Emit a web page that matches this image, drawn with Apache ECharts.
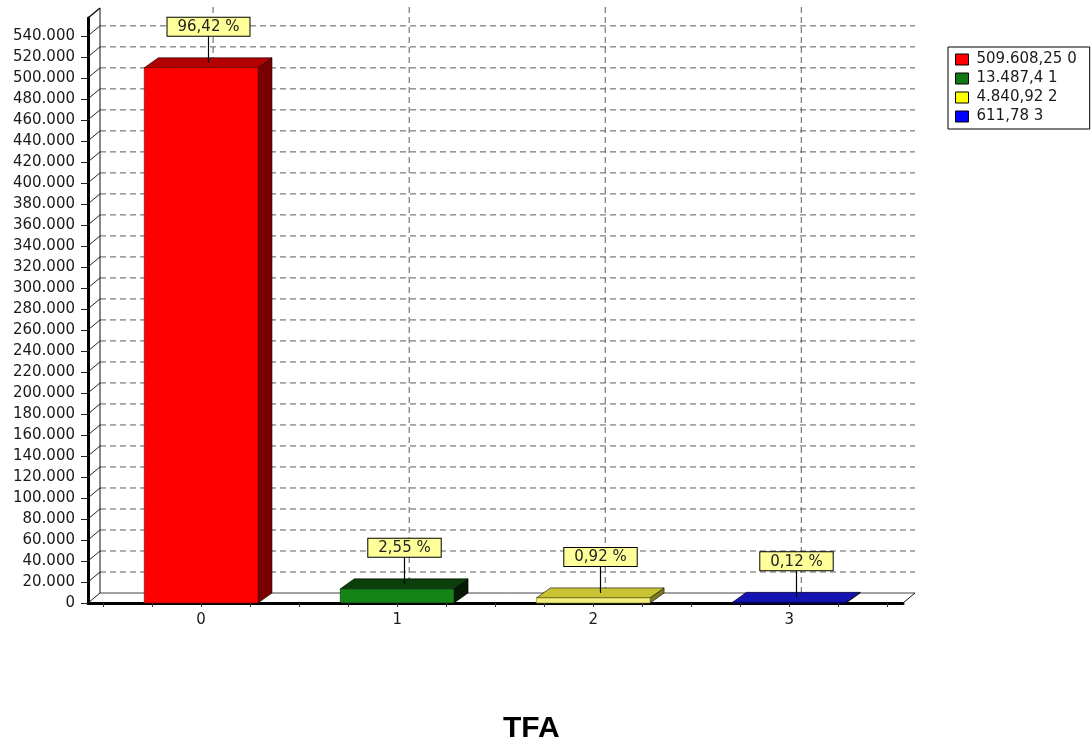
<!DOCTYPE html>
<html>
<head>
<meta charset="utf-8">
<script src="https://cdn.jsdelivr.net/npm/echarts@6/dist/echarts.min.js"></script>
<style>
  html, body { margin: 0; padding: 0; background: #ffffff; }
  #chart { width: 1092px; height: 753px; }
</style>
</head>
<body>
<div id="chart"></div>
<script>
// ---- data ----
const categories = ['0', '1', '2', '3'];
const values = [509608.25, 13487.4, 4840.92, 611.78];
const percentLabels = ['96,42 %', '2,55 %', '0,92 %', '0,12 %'];
const legendLabels = ['509.608,25 0', '13.487,4 1', '4.840,92 2', '611,78 3'];
const yTicks = [0, 20000, 40000, 60000, 80000, 100000, 120000, 140000, 160000, 180000,
  200000, 220000, 240000, 260000, 280000, 300000, 320000, 340000, 360000, 380000,
  400000, 420000, 440000, 460000, 480000, 500000, 520000, 540000];
const xTicks = [-0.5, -0.25, 0, 0.25, 0.5, 0.75, 1, 1.25, 1.5, 1.75, 2, 2.25, 2.5, 2.75,
  3, 3.25, 3.5];

// ---- look ----
const legendColors = ['#ff0000', '#117711', '#ffff00', '#0000ff'];
const frontColors = ['#ff0000', '#158315', '#f2ee80', '#0a0aa8'];
const topColors = ['#b30000', '#0b400b', '#c9c233', '#1414b4'];
const sideColors = ['#780000', '#061a06', '#7d7a24', '#00006e'];

const FONT = "'DejaVu Sans', Verdana, sans-serif";
const X_MIN = -0.577, X_MAX = 3.58;
const WALL_TOP = 557000;          // height of the side and back walls
const DEPTH_X = 12, DEPTH_Y = -10; // wall depth
const BAR_DX = 14, BAR_DY = -10;   // bar depth
const BAR_RATIO = 0.58;
const LEADER = 27;
const GRID_COLOR = '#5c5c5c';

const fmtThousands = v => String(v).replace(/\B(?=(\d{3})+(?!\d))/g, '.');

// back wall grid: horizontal lines plus the slanted marks on the side wall
function renderHGrid(params, api) {
  const v = api.value(0);
  const p0 = api.coord([X_MIN, v]);
  const p1 = api.coord([X_MAX, v]);
  const children = [
    { type: 'line', shape: { x1: p0[0], y1: p0[1], x2: p0[0] + DEPTH_X, y2: p0[1] + DEPTH_Y },
      style: { stroke: '#222', lineWidth: 1 } },
    { type: 'line', shape: { x1: p0[0] + DEPTH_X, y1: p0[1] + DEPTH_Y, x2: p1[0] + DEPTH_X, y2: p1[1] + DEPTH_Y },
      style: v === 0 ? { stroke: '#444', lineWidth: 1 }
                     : { stroke: GRID_COLOR, lineWidth: 1, lineDash: [6, 4] } }
  ];
  return { type: 'group', children };
}

// back wall grid: vertical lines at the categories
function renderVGrid(params, api) {
  const c = api.value(0);
  const p0 = api.coord([c, 0]);
  const p1 = api.coord([c, WALL_TOP]);
  return { type: 'line',
    shape: { x1: p0[0] + DEPTH_X, y1: p0[1] + DEPTH_Y, x2: p1[0] + DEPTH_X, y2: p1[1] + DEPTH_Y - 4 },
    style: { stroke: GRID_COLOR, lineWidth: 1, lineDash: [6, 4] } };
}

// wall edges: back corner line, top connector, floor right connector
function renderEdges(params, api) {
  const bl = api.coord([X_MIN, 0]);
  const tl = api.coord([X_MIN, WALL_TOP]);
  const br = api.coord([X_MAX, 0]);
  const s = { stroke: '#111', lineWidth: 1 };
  return { type: 'group', children: [
    { type: 'line', shape: { x1: bl[0] + DEPTH_X, y1: bl[1] + DEPTH_Y, x2: tl[0] + DEPTH_X, y2: tl[1] + DEPTH_Y }, style: s },
    { type: 'line', shape: { x1: tl[0], y1: tl[1], x2: tl[0] + DEPTH_X, y2: tl[1] + DEPTH_Y }, style: { stroke: '#111', lineWidth: 1.5 } },
    { type: 'line', shape: { x1: br[0], y1: br[1], x2: br[0] + DEPTH_X, y2: br[1] + DEPTH_Y }, style: s }
  ] };
}

// one 3D bar with its percentage callout
function renderBar(k, params, api) {
  const i = api.value(0), v = api.value(1);
  const base = api.coord([i, 0]);
  const top = api.coord([i, v]);
  const w = api.size([1, 0])[0] * BAR_RATIO;
  const x0 = top[0] - w / 2, x1 = top[0] + w / 2;
  const ty = top[1], by = base[1];
  const lx = Math.round(top[0] + BAR_DX / 2) + 0.5, ly = ty + BAR_DY / 2;
  return { type: 'group', children: [
    { type: 'polygon', shape: { points: [[x1, ty], [x1 + BAR_DX, ty + BAR_DY], [x1 + BAR_DX, by + BAR_DY], [x1, by]] },
      style: { fill: sideColors[k], stroke: '#000', lineWidth: 0.6 } },
    { type: 'polygon', shape: { points: [[x0, ty], [x1, ty], [x1 + BAR_DX, ty + BAR_DY], [x0 + BAR_DX, ty + BAR_DY]] },
      style: { fill: topColors[k], stroke: '#000', lineWidth: 0.6 } },
    { type: 'rect', shape: { x: x0, y: ty, width: w, height: Math.max(by - ty, 0.6) },
      style: { fill: frontColors[k], stroke: sideColors[k], lineWidth: 0.6 } },
    { type: 'line', shape: { x1: lx, y1: ly, x2: lx, y2: ly - LEADER },
      style: { stroke: '#000', lineWidth: 1.2 } },
    { type: 'text', x: lx, y: ly - LEADER,
      style: { text: percentLabels[k], align: 'center', verticalAlign: 'bottom',
        fill: '#222', fontSize: 15, fontFamily: FONT,
        backgroundColor: '#ffff99', borderColor: '#000', borderWidth: 1,
        padding: [2, 10, 1, 10] } }
  ] };
}

const barSeries = categories.map((c, k) => ({
  type: 'custom',
  name: legendLabels[k],
  xAxisIndex: 0, yAxisIndex: 0,
  clip: false,
  z: 5,
  itemStyle: { color: legendColors[k] },
  renderItem: (params, api) => renderBar(k, params, api),
  data: [[Number(c), values[k]]]
}));

const chart = echarts.init(document.getElementById('chart'), null, { renderer: 'canvas' });
chart.setOption({
  backgroundColor: '#ffffff',
  animation: false,
  title: {
    text: 'TFA',
    left: 498, top: 709,
    textStyle: { fontSize: 30, fontWeight: 'bold', color: '#000', fontFamily: "'Liberation Sans', Arial, sans-serif" }
  },
  legend: {
    orient: 'vertical',
    left: 948, top: 47,
    padding: [4, 13, 4, 7],
    itemGap: 2,
    itemWidth: 13, itemHeight: 11,
    icon: 'rect',
    backgroundColor: '#fff',
    borderColor: '#000', borderWidth: 1,
    selectedMode: false,
    textStyle: { fontSize: 15, fontFamily: FONT, color: '#1a1a1a', lineHeight: 17, padding: [0, 0, 0, 3] },
    data: legendLabels.map((n, k) => ({ name: n, itemStyle: { color: legendColors[k], borderColor: '#000', borderWidth: 1 } }))
  },
  grid: { left: 88, top: 18, right: 189, bottom: 150, containLabel: false },
  xAxis: {
    type: 'value', min: X_MIN, max: X_MAX,
    axisLine: { show: true, onZero: false, lineStyle: { color: '#000', width: 3 } },
    axisTick: { show: true, length: 4, customValues: xTicks, lineStyle: { color: '#333', width: 1 } },
    axisLabel: { customValues: [0, 1, 2, 3], formatter: v => categories[Math.round(v)],
      margin: 10, fontSize: 15, fontFamily: FONT, color: '#1a1a1a' },
    splitLine: { show: false }
  },
  yAxis: {
    type: 'value', min: 0, max: WALL_TOP,
    axisLine: { show: true, onZero: false, lineStyle: { color: '#000', width: 3 } },
    axisTick: { show: true, length: 7, customValues: yTicks, lineStyle: { color: '#222', width: 1 } },
    axisLabel: { customValues: yTicks, formatter: v => fmtThousands(v),
      margin: 13, fontSize: 15, fontFamily: FONT, color: '#1a1a1a' },
    splitLine: { show: false }
  },
  series: [
    { type: 'custom', clip: false, z: 1, silent: true, renderItem: renderHGrid,
      data: yTicks.map(v => [v]) },
    { type: 'custom', clip: false, z: 1, silent: true, renderItem: renderVGrid,
      data: categories.map(c => [Number(c)]) },
    { type: 'custom', clip: false, z: 1, silent: true, renderItem: renderEdges,
      data: [[0]] }
  ].concat(barSeries)
});
</script>
</body>
</html>
